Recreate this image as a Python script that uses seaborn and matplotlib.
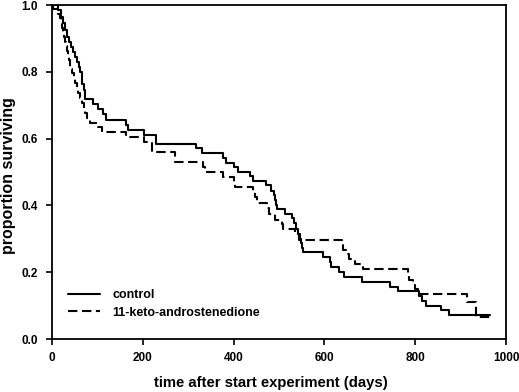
import pandas as pd
import matplotlib
matplotlib.use("Agg")
import matplotlib.pyplot as plt
import seaborn as sns

# survival curves (day of step, proportion after step)
control_days = [0, 13, 20, 24, 29, 33, 37, 42, 46, 51, 56, 60, 62, 65, 67, 70, 73,
                90, 101, 112, 118, 162, 167, 203, 229, 317, 330, 377, 383, 400, 410,
                436, 443, 471, 483, 488, 491, 494, 496, 513, 528, 533, 538, 542, 546,
                549, 551, 553, 596, 612, 615, 633, 643, 683, 744, 763, 809, 814, 823,
                856, 875, 964]
control_surv = [1.0, 0.985, 0.965, 0.945, 0.925, 0.905, 0.89, 0.875, 0.86, 0.845, 0.83,
                0.815, 0.80, 0.78, 0.765, 0.745, 0.72,
                0.705, 0.69, 0.675, 0.655, 0.64, 0.626, 0.612, 0.585, 0.571, 0.557,
                0.541, 0.527, 0.514, 0.50,
                0.488, 0.474, 0.46, 0.444, 0.43, 0.416, 0.402, 0.389, 0.376, 0.362,
                0.349, 0.33, 0.315, 0.30,
                0.287, 0.274, 0.26, 0.245, 0.23, 0.216, 0.202, 0.187, 0.172, 0.157,
                0.143, 0.129, 0.115, 0.10,
                0.086, 0.072, 0.072]

keto_days = [0, 3, 14, 17, 20, 23, 25, 27, 29, 31, 33, 35, 37, 40, 44, 48, 51, 54, 57,
             62, 66, 70, 73, 78, 84, 102, 110, 163, 203, 220, 272, 332, 336, 377, 400,
             404, 443, 447, 452, 473, 477, 491, 506, 509, 535, 544, 638, 642, 649, 655,
             667, 684, 784, 787, 795, 800, 806, 914, 933, 964]
keto_surv = [1.0, 0.987, 0.973, 0.96, 0.946, 0.932, 0.919, 0.905, 0.891, 0.878, 0.864,
             0.851, 0.837, 0.81, 0.796, 0.78, 0.766, 0.75, 0.736,
             0.722, 0.708, 0.69, 0.676, 0.662, 0.648, 0.634, 0.62, 0.606, 0.59, 0.56,
             0.531, 0.516, 0.501, 0.486, 0.47,
             0.454, 0.439, 0.424, 0.408, 0.392, 0.376, 0.358, 0.344, 0.331, 0.316,
             0.296, 0.282, 0.268, 0.254, 0.24,
             0.226, 0.211, 0.193, 0.177, 0.163, 0.149, 0.135, 0.112, 0.067, 0.067]

groups = ["control", "11-keto-androstenedione"]

df = pd.concat([
    pd.DataFrame({"day": control_days, "surv": control_surv, "group": groups[0]}),
    pd.DataFrame({"day": keto_days, "surv": keto_surv, "group": groups[1]}),
])

sns.set_style("ticks")
plt.rcParams["font.family"] = ["Liberation Sans", "DejaVu Sans"]
plt.rcParams["font.weight"] = "bold"
plt.rcParams["text.color"] = "black"
plt.rcParams["axes.labelcolor"] = "black"

fig = plt.figure(figsize=(5.19, 3.92), dpi=100)
ax = fig.add_axes([0.1002, 0.135, 0.8748, 0.852])

sns.lineplot(data=df, x="day", y="surv", style="group", style_order=groups,
             dashes={groups[0]: "", groups[1]: (4.5, 2.2)}, color="black",
             drawstyle="steps-post", estimator=None, sort=False, linewidth=1.5, ax=ax)

ax.set_xlim(0, 1000)
ax.set_ylim(0, 1.0)
ax.set_xticks([0, 200, 400, 600, 800, 1000])
ax.set_yticks([0.0, 0.2, 0.4, 0.6, 0.8, 1.0])
ax.yaxis.set_major_formatter(plt.FormatStrFormatter("%.1f"))
ax.tick_params(direction="out", length=4, width=1.2, labelsize=8.5, colors="black")
ax.tick_params(axis="y", pad=6)
ax.tick_params(axis="x", pad=5)
for s in ax.spines.values():
    s.set_visible(True)
    s.set_linewidth(1.3)
    s.set_color("black")

ax.set_xlabel("time after start experiment (days)", fontsize=10.7, fontweight="bold")
ax.xaxis.set_label_coords(0.483, -0.11)
ax.set_ylabel("proportion surviving", fontsize=11.5, fontweight="bold")
ax.yaxis.set_label_coords(-0.079, 0.49)

leg = ax.legend(loc="upper left", bbox_to_anchor=(0.035, 0.15), frameon=False, fontsize=9,
                handlelength=2.6, handletextpad=0.95, labelspacing=0.45,
                borderpad=0, borderaxespad=0, title=None)

fig.savefig("out.png", dpi=100)
